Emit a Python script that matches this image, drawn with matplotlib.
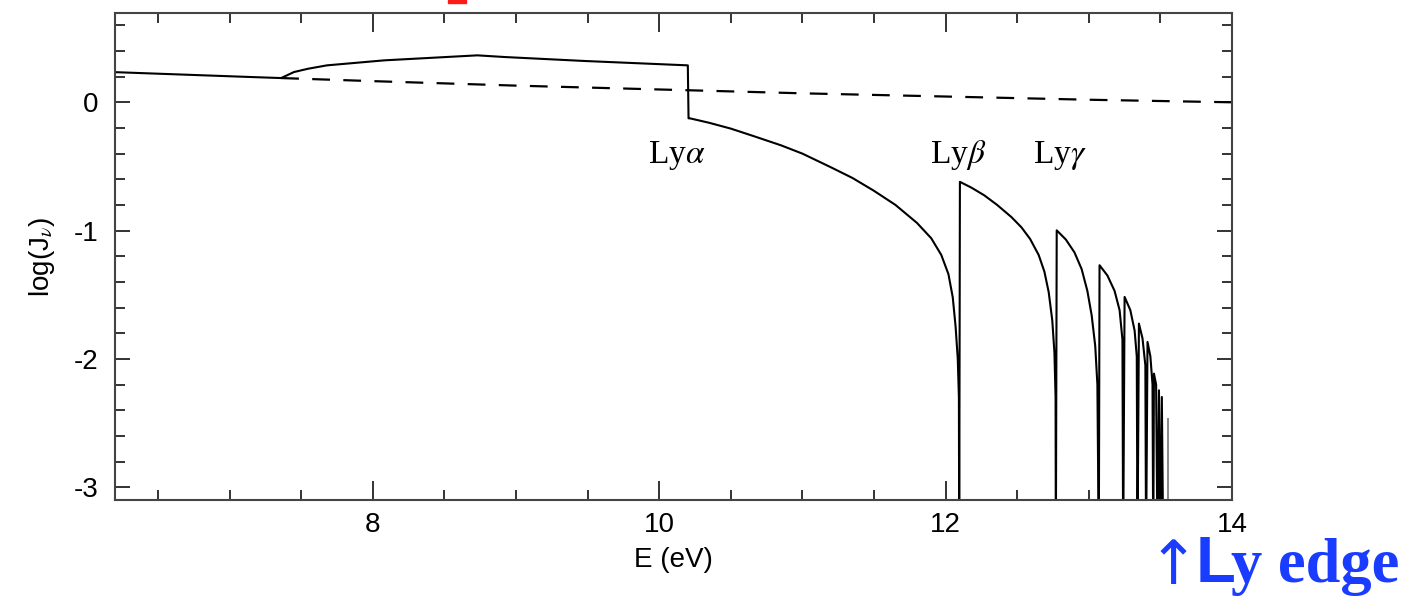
import numpy as np
import matplotlib
matplotlib.use("Agg")
import matplotlib.pyplot as plt
from matplotlib.patches import Rectangle
from matplotlib.ticker import MultipleLocator

plt.rcParams['font.family'] = ['Liberation Sans', 'DejaVu Sans']
plt.rcParams['mathtext.fontset'] = 'stix'
plt.rcParams['axes.unicode_minus'] = False

# continuum below Ly-alpha (solid)
E_cont = [6.20, 7.15, 7.36, 7.45, 7.55, 7.68, 8.08, 8.73, 8.92, 9.48, 10.20, 10.205]
J_cont = [0.235, 0.197, 0.189, 0.236, 0.262, 0.288, 0.327, 0.366, 0.353, 0.322, 0.288, -0.125]

# Ly-alpha -> Ly-beta trough
E_a = [10.215, 10.35, 10.50, 10.65, 10.85, 11.00, 11.20, 11.35, 11.50, 11.65, 11.80,
       11.90, 11.97, 12.02, 12.05, 12.07, 12.085, 12.093, 12.095]
J_a = [-0.125, -0.16, -0.205, -0.26, -0.335, -0.40, -0.507, -0.59, -0.69, -0.80, -0.94,
       -1.06, -1.19, -1.34, -1.52, -1.75, -2.0, -2.3, -3.5]

# Ly-beta -> Ly-gamma
E_b = [12.10, 12.18, 12.27, 12.36, 12.46, 12.53, 12.59, 12.65, 12.69, 12.72, 12.745,
       12.76, 12.768, 12.77]
J_b = [-0.62, -0.665, -0.725, -0.80, -0.895, -0.975, -1.065, -1.19, -1.32, -1.48, -1.70,
       -1.95, -2.3, -3.5]

# higher series members
E_g = [12.776, 12.84, 12.90, 12.95, 12.99, 13.02, 13.045, 13.06, 13.07]
J_g = [-0.998, -1.07, -1.17, -1.30, -1.47, -1.66, -1.9, -2.2, -3.5]
E_d = [13.075, 13.13, 13.18, 13.215, 13.235, 13.24]
J_d = [-1.27, -1.35, -1.47, -1.62, -1.85, -3.5]
E_e = [13.25, 13.29, 13.32, 13.335, 13.34]
J_e = [-1.517, -1.62, -1.78, -1.98, -3.5]
E_6 = [13.35, 13.375, 13.395, 13.40]
J_6 = [-1.725, -1.84, -2.05, -3.5]
E_7 = [13.41, 13.43, 13.445, 13.45]
J_7 = [-1.868, -1.98, -2.2, -3.5]
E_8 = [13.455, 13.47, 13.48]
J_8 = [-2.115, -2.2, -3.5]
E_9 = [13.49, 13.50]
J_9 = [-2.245, -3.5]
E_10 = [13.51, 13.52]
J_10 = [-2.297, -3.5]
E_last = [13.55, 13.55]
J_last = [-3.5, -2.466]

# unattenuated (dashed)
E_dash = [7.36, 8.0, 9.0, 10.2, 11.0, 12.0, 13.0, 14.0]
J_dash = [0.189, 0.165, 0.13, 0.094, 0.07, 0.045, 0.02, 0.0]

line_labels = [r'Ly$\alpha$', r'Ly$\beta$', r'Ly$\gamma$']
line_label_E = [10.12, 12.09, 12.80]

W, H = 1411, 600
fig = plt.figure(figsize=(W / 100, H / 100), dpi=100)
ax = fig.add_axes([115 / W, 1 - 500 / H, (1232 - 115) / W, (500 - 12.5) / H])

E_solid = E_cont + E_a + E_b + E_g + E_d + E_e + E_6 + E_7 + E_8 + E_9 + E_10
J_solid = J_cont + J_a + J_b + J_g + J_d + J_e + J_6 + J_7 + J_8 + J_9 + J_10
ax.plot(E_solid, J_solid, color='black', lw=1.5)
ax.plot(E_last, J_last, color='#888888', lw=1.4)
ax.plot(E_dash, J_dash, color='black', lw=1.6, dashes=(8, 6))

for lab, e in zip(line_labels, line_label_E):
    ax.text(e, -0.475, lab, ha='center', va='baseline', fontsize=24,
            family=['Liberation Serif', 'DejaVu Serif'])

ax.set_xlim(6.2, 14)
ax.set_ylim(-3.1, 0.7)
ax.xaxis.set_major_locator(MultipleLocator(2))
ax.xaxis.set_minor_locator(MultipleLocator(0.5))
ax.yaxis.set_major_locator(MultipleLocator(1))
ax.yaxis.set_minor_locator(MultipleLocator(0.2))

for s in ax.spines.values():
    s.set_color('#444444')
    s.set_linewidth(1.5)
ax.tick_params(axis='both', which='both', direction='in', top=True, right=True,
               color='#333333', width=1.4, labelsize=20)
ax.tick_params(axis='x', which='major', length=14, pad=9)
ax.tick_params(axis='x', which='minor', length=7)
ax.tick_params(axis='y', which='major', length=11, pad=12)
ax.tick_params(axis='y', which='minor', length=7)

ax.set_xlabel('E (eV)', fontsize=20, labelpad=6)
ax.set_ylabel(r'log(J$_\nu$)', fontsize=20)
ax.yaxis.set_label_coords(-58 / (1232 - 115), 0.5)

# red fragment at the top edge and blue annotation
fig.patches.append(Rectangle((448 / W, 1 - 3 / H), 18 / W, 3 / H,
                             transform=fig.transFigure, color='#ff1a1a'))
blue = '#1a3cff'
fig.text(1148 / W, 1 - 584 / H, '\u2191', color=blue, fontsize=44,
         family=['DejaVu Sans'], va='baseline', ha='left')
fig.text(1196 / W, 1 - 582 / H, 'L', color=blue, fontsize=47,
         fontweight='bold', family=['Liberation Sans'], va='baseline', ha='left')
fig.text(1231 / W, 1 - 582 / H, 'y edge', color=blue, fontsize=45,
         fontweight='bold', family=['Liberation Serif'], va='baseline', ha='left')

fig.savefig('out.png', dpi=100)
